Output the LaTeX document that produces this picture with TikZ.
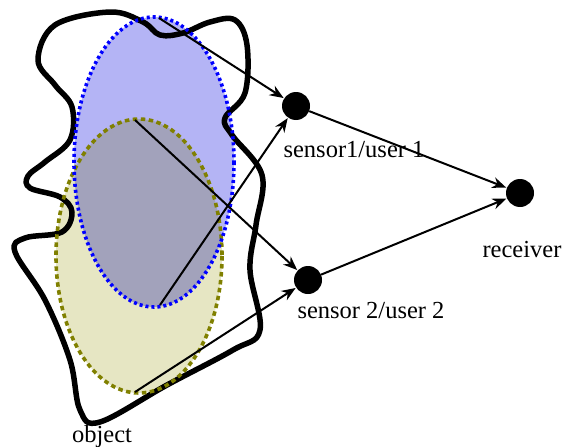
\documentclass[tikz,border=0pt]{standalone}
\usepackage{fontspec}
\setmainfont{Liberation Serif}
\usetikzlibrary{arrows.meta}
\definecolor{blueborder}{RGB}{0,0,255}
\definecolor{oliveborder}{RGB}{128,128,0}
\definecolor{bluefill}{RGB}{180,180,245}
\definecolor{olivefill}{RGB}{230,230,195}
\tikzset{
  dotnode/.style={circle,fill=black,inner sep=0pt,minimum size=28pt},
  lbl/.style={font=\fontsize{24.5}{28}\selectfont,anchor=base,inner sep=0pt},
  conn/.style={line width=2pt,-{Stealth[length=14pt,width=11pt]},shorten >=0.5pt},
  blueb/.style={blueborder,line width=3.6pt,dash pattern=on 3pt off 3pt},
  oliveb/.style={oliveborder,line width=3.6pt,dash pattern=on 4.5pt off 3.5pt},
}
\begin{document}
\begin{tikzpicture}[x=1pt,y=-1pt]
\useasboundingbox (0,0) rectangle (584,447);
% object blob
\draw[line width=5.5pt,line join=round] plot[smooth cycle,tension=0.6] coordinates {
(110,12) (143,22) (160,35) (183,33) (210,22) (235,20) (247,45) (245,93) (225,118)
(232,135) (262,175) (256,225) (250,270) (260,330) (233,350) (167,385) (100,422)
(80,410) (70,360) (45,300) (15,252) (25,238) (62,232) (72,212) (60,197) (30,188)
(28,176) (45,162) (70,140) (72,107) (55,85) (38,60) (55,25)};
% fills
\begin{scope}[blend mode=multiply]
\fill[olivefill] (139,256) ellipse [x radius=83, y radius=137];
\fill[bluefill] (154,162) ellipse [x radius=80, y radius=145];
\end{scope}
% borders
\draw[oliveb] (139,256) ellipse [x radius=83, y radius=137];
\draw[blueb] (154,162) ellipse [x radius=80, y radius=145];
% nodes
\node[dotnode] (s1) at (296,106) {};
\node[dotnode] (s2) at (308,280) {};
\node[dotnode] (rx) at (520,193) {};
\coordinate (bt) at (159,18);
\coordinate (bb) at (160,305);
\coordinate (ot) at (135,120);
\coordinate (ob) at (135,392);
\draw[conn] (bt) -- (s1);
\draw[conn] (bb) -- (s1);
\draw[conn] (ot) -- (s2);
\draw[conn] (ob) -- (s2);
\draw[conn] (s1) -- (rx);
\draw[conn] (s2) -- (rx);
% labels
\node[lbl] (l1) at (354,157) {sensor1/user 1};
\node[lbl] (l2) at (371,318) {sensor 2/user 2};
\node[lbl] (l3) at (522,257) {receiver};
\node[lbl] (l4) at (102,442) {object};
\end{tikzpicture}
\end{document}
